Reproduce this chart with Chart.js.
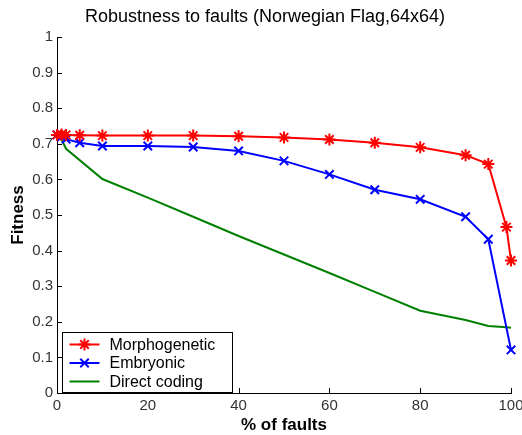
<!DOCTYPE html>
<html>
<head>
<meta charset="utf-8">
<script src="https://cdn.jsdelivr.net/npm/chart.js@4.4.1/dist/chart.umd.min.js"></script>
<style>
  html, body { margin: 0; padding: 0; background: #fff; }
  #wrap { width: 522px; height: 435px; }
</style>
</head>
<body>
<div id="wrap"><canvas id="fault-chart" width="522" height="435"></canvas></div>
<script>
const chartTitle = 'Robustness to faults (Norwegian Flag,64x64)';

// % of faults for each curve
const morphoX = [0, 1, 2, 5, 10, 20, 30, 40, 50, 60, 70, 80, 90, 95, 99, 100];
const morphoY = [0.725, 0.726, 0.725, 0.724, 0.723, 0.723, 0.723, 0.721, 0.718, 0.712, 0.703, 0.69, 0.668, 0.643, 0.466, 0.372];

const embryoX = [0, 1, 2, 5, 10, 20, 30, 40, 50, 60, 70, 80, 90, 95, 100];
const embryoY = [0.725, 0.72, 0.713, 0.703, 0.694, 0.694, 0.691, 0.68, 0.652, 0.614, 0.571, 0.544, 0.495, 0.432, 0.121];

const directX = [0, 1, 2, 10, 20, 30, 40, 50, 60, 70, 80, 90, 95, 99, 100];
const directY = [0.72, 0.712, 0.686, 0.601, 0.549, 0.495, 0.441, 0.389, 0.337, 0.284, 0.231, 0.205, 0.188, 0.185, 0.183];

const xTicks = [0, 20, 40, 60, 80, 100];
const yTicks = [0, 0.1, 0.2, 0.3, 0.4, 0.5, 0.6, 0.7, 0.8, 0.9, 1];

const FONT = '"Liberation Sans", Arial, sans-serif';

function toPoints(xs, ys) {
    return xs.map((x, i) => ({ x: x, y: ys[i] }));
}

// MATLAB style ticks pointing into the plot, plus the title
const innerTicks = {
    id: 'innerTicks',
    afterDatasetsDraw(chart) {
        const ctx = chart.ctx;
        const xs = chart.scales.x, ys = chart.scales.y;
        const area = chart.chartArea;
        ctx.save();
        ctx.strokeStyle = '#000';
        ctx.lineWidth = 1;
        ctx.beginPath();
        xTicks.forEach(v => {
            const px = Math.round(xs.getPixelForValue(v)) + 0.5;
            ctx.moveTo(px, area.bottom);
            ctx.lineTo(px, area.bottom - 5);
        });
        yTicks.forEach(v => {
            const py = Math.round(ys.getPixelForValue(v)) + 0.5;
            ctx.moveTo(area.left, py);
            ctx.lineTo(area.left + 5, py);
        });
        ctx.stroke();

        ctx.fillStyle = '#000';
        ctx.font = '18px ' + FONT;
        ctx.textAlign = 'center';
        ctx.textBaseline = 'middle';
        ctx.fillText(chartTitle, chart.width / 2 + 4, 17);
        ctx.restore();
    }
};

// legend box in the lower left corner of the axes
const boxLegend = {
    id: 'boxLegend',
    afterDraw(chart) {
        const ctx = chart.ctx;
        const area = chart.chartArea;
        const left = Math.round(area.left + 5) + 0.5;
        const bottom = Math.round(area.bottom) - 0.5;
        const w = 170, h = 60;
        ctx.save();
        ctx.fillStyle = '#fff';
        ctx.fillRect(left, bottom - h, w, h);
        ctx.strokeStyle = '#000';
        ctx.lineWidth = 1;
        ctx.strokeRect(left, bottom - h, w, h);
        ctx.font = '16px ' + FONT;
        ctx.textBaseline = 'middle';
        chart.data.datasets.forEach((ds, i) => {
            const y = bottom - h + 12 + i * 18.5;
            ctx.strokeStyle = ds.borderColor;
            ctx.lineWidth = 2;
            ctx.beginPath();
            ctx.moveTo(left + 7, y);
            ctx.lineTo(left + 37, y);
            ctx.stroke();
            if (ds.pointRadius > 0) {
                Chart.helpers.drawPoint(ctx, {
                    pointStyle: ds.pointStyle,
                    radius: ds.pointRadius,
                    borderWidth: 2,
                    rotation: 0
                }, left + 22, y);
            }
            ctx.fillStyle = '#000';
            ctx.fillText(ds.label, left + 47, y + 1);
        });
        ctx.restore();
    }
};

const ctx = document.getElementById('fault-chart').getContext('2d');
const chart = new Chart(ctx, {
    type: 'line',
    data: {
        datasets: [
            {
                label: 'Morphogenetic',
                data: toPoints(morphoX, morphoY),
                borderColor: '#ff0000',
                backgroundColor: '#ff0000',
                borderWidth: 2,
                pointStyle: 'star',
                pointRadius: 6,
                pointBorderWidth: 2,
                tension: 0,
                clip: false
            },
            {
                label: 'Embryonic',
                data: toPoints(embryoX, embryoY),
                borderColor: '#0000ff',
                backgroundColor: '#0000ff',
                borderWidth: 2,
                pointStyle: 'crossRot',
                pointRadius: 6,
                pointBorderWidth: 2,
                tension: 0,
                clip: false
            },
            {
                label: 'Direct coding',
                data: toPoints(directX, directY),
                borderColor: '#008000',
                backgroundColor: '#008000',
                borderWidth: 2,
                pointRadius: 0,
                tension: 0,
                clip: false
            }
        ]
    },
    options: {
        responsive: false,
        animation: false,
        layout: { padding: { left: 0, right: 11, top: 37, bottom: 0 } },
        plugins: {
            legend: { display: false },
            tooltip: { enabled: false },
            title: { display: false }
        },
        scales: {
            x: {
                type: 'linear',
                min: 0,
                max: 100,
                afterBuildTicks: scale => { scale.ticks = xTicks.map(v => ({ value: v })); },
                afterFit: scale => {
                    scale.height = 42;
                    scale.paddingLeft = 0;
                    scale.paddingRight = 0;
                },
                grid: { display: false, drawTicks: false },
                border: { display: true, color: '#000', width: 1 },
                ticks: {
                    padding: 4,
                    color: '#333',
                    maxRotation: 0,
                    font: { family: FONT, size: 15 }
                },
                title: {
                    display: true,
                    text: '% of faults',
                    color: '#000',
                    padding: 0,
                    font: { family: FONT, size: 17, weight: 'bold', lineHeight: 1.1 }
                }
            },
            y: {
                type: 'linear',
                min: 0,
                max: 1,
                afterBuildTicks: scale => { scale.ticks = yTicks.map(v => ({ value: v })); },
                afterFit: scale => {
                    scale.width = 57;
                    scale.paddingTop = 0;
                    scale.paddingBottom = 0;
                },
                grid: { display: false, drawTicks: false },
                border: { display: true, color: '#000', width: 1 },
                ticks: {
                    padding: 4,
                    color: '#333',
                    callback: v => String(+v.toFixed(1)),
                    font: { family: FONT, size: 15 }
                },
                title: {
                    display: true,
                    text: 'Fitness',
                    color: '#000',
                    padding: 8,
                    font: { family: FONT, size: 17, weight: 'bold' }
                }
            }
        }
    },
    plugins: [innerTicks, boxLegend]
});
</script>
</body>
</html>
